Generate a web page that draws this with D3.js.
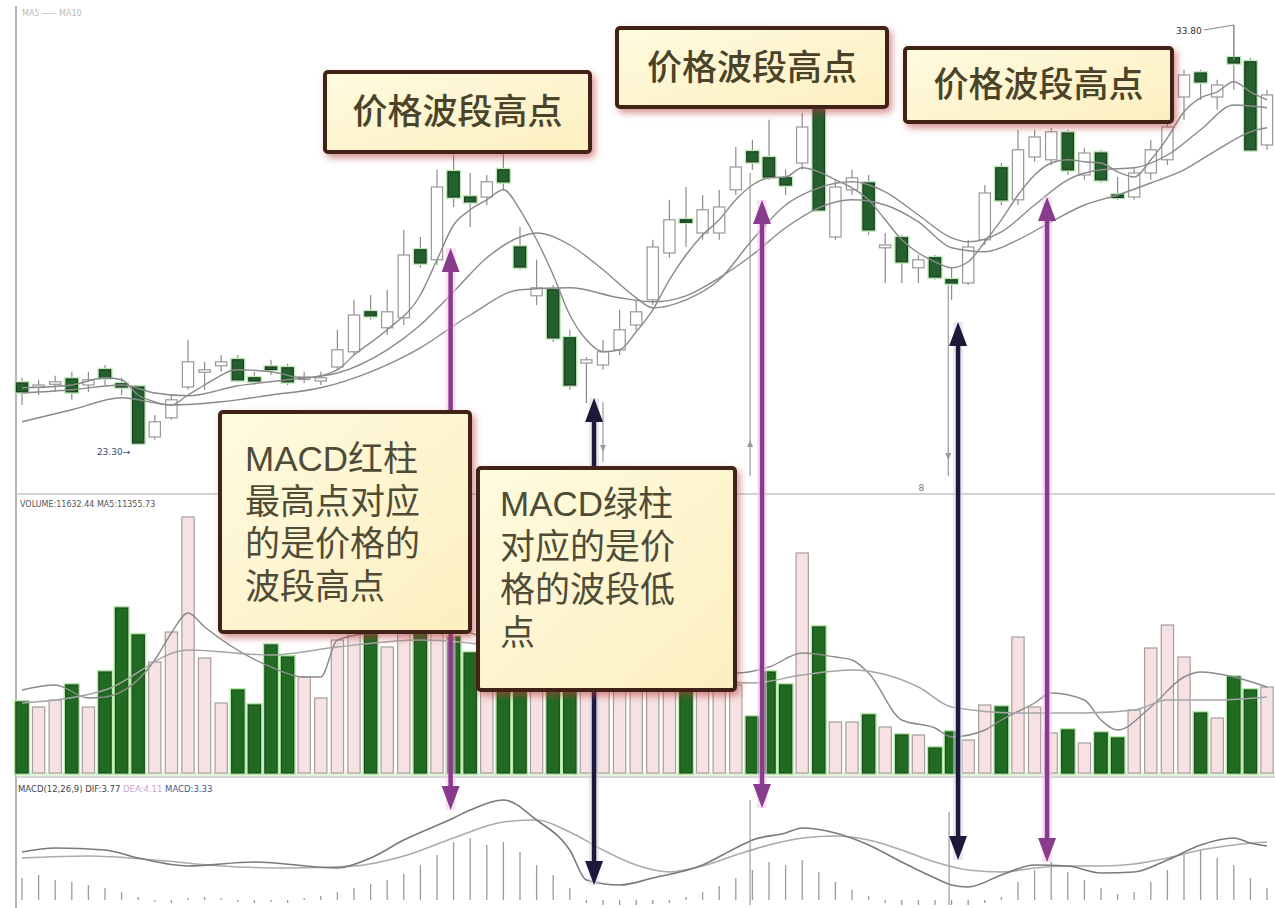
<!DOCTYPE html>
<html><head><meta charset="utf-8">
<script src="https://cdn.jsdelivr.net/npm/d3@7/dist/d3.min.js"></script>
<style>html,body{margin:0;padding:0;background:#fff;overflow:hidden}svg{display:block}</style>
</head><body>
<svg id="chart" width="1275" height="908"></svg>
<script>
// ---------- DATA ----------
const days = d3.range(76);
const openP  = [24.85,24.78,24.83,24.95,24.80,25.18,24.83,24.75,23.50,23.98,24.75,25.13,25.28,25.43,24.98,25.25,25.23,24.95,24.90,25.25,
                25.63,26.63,26.23,26.48,28.18,27.93,30.13,29.50,29.50,30.18,28.25,27.03,27.18,25.98,25.35,25.30,25.68,26.30,26.93,28.10,
                28.93,28.60,28.60,29.68,30.63,30.48,29.98,30.35,31.68,28.50,29.68,29.85,28.23,28.48,27.73,27.98,27.43,27.35,28.43,30.23,
                29.43,30.50,30.43,31.10,30.05,30.60,29.55,29.50,30.10,30.43,32.00,32.60,32.00,32.98,32.88,30.80];
const closeP = [24.63,24.80,24.88,24.63,24.93,24.98,24.75,23.35,23.88,24.43,25.38,25.18,25.38,24.93,24.90,25.20,24.88,25.00,24.98,25.68,
                26.55,26.53,26.63,28.05,27.85,29.75,29.50,29.38,29.88,29.88,27.75,27.23,25.98,24.80,25.43,25.63,26.18,26.63,28.25,28.93,
                28.88,29.18,29.25,30.25,30.38,30.00,29.80,31.25,29.18,29.75,29.98,28.68,28.30,27.88,27.93,27.50,27.35,28.25,29.60,29.43,
                30.68,31.00,31.13,30.18,30.60,29.93,29.50,30.10,30.68,31.25,32.55,32.38,32.30,32.85,30.68,32.05];
const highP  = [24.98,24.93,25.03,25.13,25.13,25.30,24.98,24.80,24.05,24.55,25.93,25.38,25.55,25.55,25.13,25.43,25.33,25.13,25.13,26.18,
                26.93,27.05,27.18,28.68,28.50,30.18,30.55,30.10,30.05,30.60,28.75,27.93,27.30,26.18,25.50,25.93,26.68,26.93,28.43,29.43,
                29.75,29.55,29.68,30.75,30.93,31.43,30.18,31.60,31.80,29.93,30.18,30.05,28.60,28.55,28.05,28.05,27.75,28.43,29.80,30.35,
                31.18,31.18,31.23,31.18,30.73,30.68,30.00,30.23,30.93,31.55,32.68,32.68,32.43,33.80,32.98,32.18];
const lowP   = [24.30,24.55,24.63,24.43,24.63,24.80,24.55,23.30,23.43,23.93,24.68,24.68,25.13,24.88,24.80,25.05,24.80,24.85,24.80,25.18,
                25.55,26.43,26.05,26.30,27.73,27.80,29.25,28.75,29.30,29.68,27.68,26.80,25.88,24.68,24.35,25.18,25.55,26.18,26.80,27.98,
                28.25,28.43,28.43,29.55,30.18,29.93,29.55,30.18,29.13,28.43,29.55,28.55,27.35,27.35,27.35,27.43,26.93,27.30,28.30,29.30,
                29.30,30.38,30.30,30.05,29.93,29.85,29.43,29.43,29.93,30.30,31.43,31.93,31.68,32.18,30.63,30.68];
const volume = [71,66,73,88,66,101,165,138,111,141,256,115,70,83,68,128,116,96,75,133,
                150,140,126,160,150,170,136,120,110,100,115,90,105,110,95,90,100,95,105,110,
                90,95,100,88,56,101,88,220,146,51,51,58,46,38,38,25,41,33,68,66,
                136,66,40,43,30,40,35,63,125,148,116,60,55,96,83,86];

// price moving averages (read at sampled days)
const ma5Days = [0,3,5,6,7,8,9,10,11,13,15,17,19,20,22,24,25,26,27,28,29,30,31,32,33,34,35,36,37,38,39,40,41,42,43,44,45,46,47,48,49,50,51,52,53,54,55,56,57,58,59,60,61,62,63,64,65,66,67,68,69,70,71,72,73,74,75];
const ma5 = [24.73,24.80,24.98,24.93,24.55,24.38,24.30,24.55,24.80,25.18,25.13,24.98,25.18,25.55,26.18,27.05,27.93,28.80,29.18,29.43,29.68,29.18,
             28.43,27.55,26.55,25.93,25.63,25.68,26.13,26.68,27.43,28.05,28.55,28.93,29.43,29.80,29.98,30.00,30.23,30.13,29.93,29.73,29.43,28.93,
             28.43,28.10,27.88,27.73,27.88,28.38,28.93,29.55,30.05,30.35,30.43,30.38,30.35,30.13,30.00,30.43,30.98,31.63,31.98,32.13,32.38,32.13,31.93];
const ma10Days = [0,3,6,8,10,13,16,19,22,24,26,28,30,31,33,35,37,38,40,42,44,46,48,50,52,54,56,57,59,61,63,65,67,69,71,73,75];
const ma10 = [24.60,24.68,24.80,24.60,24.53,24.78,24.93,25.10,25.68,26.30,27.13,27.98,28.50,28.60,28.30,27.68,26.98,26.73,26.93,27.43,
              28.43,29.30,29.73,29.88,29.63,29.05,28.48,28.38,28.63,29.30,29.93,30.18,30.23,30.55,31.18,31.80,31.73];
const ma20Days = [0,3,6,9,12,15,18,21,24,27,30,33,36,38,40,42,44,46,48,50,52,54,56,58,60,62,64,66,68,70,72,74,75];
const ma20 = [23.88,24.18,24.48,24.30,24.38,24.55,24.73,25.13,25.73,26.55,27.18,27.23,26.98,26.88,27.03,27.48,28.05,28.73,29.23,29.43,
              29.30,28.88,28.23,28.13,28.43,28.88,29.30,29.55,29.85,30.18,30.68,31.13,31.23];

// volume moving averages
const vma5Days = [0,2,4,5,8,9,10,11,15,17,18,19,22,24,28,32,36,40,43,45,47,49,50,51,53,55,56,58,59,61,62,64,65,66,68,70,71,73,75];
const vma5 = [83,88,75,76,113,140,160,146,106,96,96,133,143,150,135,110,100,100,100,106,120,116,113,100,53,45,36,43,53,70,80,73,53,43,66,96,101,96,86];
const vma10Days = [0,5,10,15,19,24,30,36,40,44,47,50,54,56,60,64,67,69,72,75];
const vma10 = [70,83,123,118,126,133,123,103,93,90,98,103,86,66,60,60,63,73,73,76];

// MACD
const difDays = [0,2,5,7,10,14,19,21,23,26,27,29,31,33,34,36,38,41,43,44,46,47,49,51,53,55,56,57,59,61,63,65,67,69,71,73,74,75];
const dif = [1.92,2.08,2.00,1.68,1.36,1.52,1.28,1.68,2.40,3.28,3.60,4.00,3.20,2.00,0.80,0.60,0.88,1.40,2.08,2.40,2.68,2.88,2.68,2.20,1.52,
             0.88,0.60,0.52,1.00,1.40,1.36,1.08,1.12,1.60,2.20,2.48,2.28,2.16];
const deaDays = [0,4,8,12,16,20,23,26,29,31,33,35,37,39,41,43,45,47,49,51,53,55,57,59,61,63,65,67,69,71,73,75];
const dea = [1.68,1.76,1.60,1.36,1.28,1.36,1.76,2.48,3.12,3.20,2.72,2.00,1.40,1.12,1.36,1.80,2.20,2.48,2.56,2.40,2.00,1.52,1.20,1.12,1.28,
             1.36,1.36,1.44,1.68,2.00,2.20,2.32];
const macdHist = [0.88,1.00,0.80,0.72,0.60,0.48,0.32,0.12,-0.08,-0.12,0.08,0.12,0.08,-0.08,-0.12,-0.08,-0.12,0.08,0.16,0.32,
                  0.48,0.64,0.80,1.04,1.40,1.80,2.32,2.48,2.20,2.32,1.92,1.40,1.00,0.48,-0.12,-0.20,-0.24,-0.20,-0.16,-0.12,
                  0.12,0.32,0.56,0.88,1.20,1.52,1.40,1.60,1.12,0.72,0.40,0.16,-0.12,-0.20,-0.24,-0.28,-0.32,-0.24,-0.12,0.12,
                  0.72,1.20,1.52,1.12,0.80,0.48,0.24,0.32,0.72,1.20,1.80,2.00,1.68,1.40,0.88,0.48];

// texts
const titleText = "价格波段高点";
const redBoxLines = ["MACD红柱", "最高点对应", "的是价格的", "波段高点"];
const greenBoxLines = ["MACD绿柱", "对应的是价", "格的波段低", "点"];
const volumeLabel = "VOLUME:11632.44  MA5:11355.73";
const macdLabel = ["MACD(12,26,9)  DIF:3.77", "DEA:4.11", "MACD:3.33"];

// ---------- SCALES ----------
const svg = d3.select('#chart');
const W = 1275, H = 908;
const x = d3.scalePoint().domain(days).range([22, 1267]);
const xi = d3.scaleLinear().domain([0, 75]).range([22, 1267]); // fractional day position for annotations
const step = x.step();
const yP = d3.scaleLinear().domain([22.1, 34.175]).range([493, 10]);
const yV = d3.scaleLinear().domain([0, 280]).range([773, 493]);
const yM = d3.scaleLinear().domain([-0.2, 4.2]).range([905, 795]);

const defs = svg.append('defs');
const f = defs.append('filter').attr('id', 'sh').attr('x', '-10%').attr('y', '-10%').attr('width', '125%').attr('height', '130%');
f.append('feDropShadow').attr('dx', 3).attr('dy', 4).attr('stdDeviation', 3.5).attr('flood-color', '#b83a3a').attr('flood-opacity', 0.55);
const g1 = defs.append('linearGradient').attr('id', 'boxfill').attr('x1', 0).attr('y1', 0).attr('x2', 1).attr('y2', 1);
g1.append('stop').attr('offset', '0%').attr('stop-color', '#fffbe0');
g1.append('stop').attr('offset', '100%').attr('stop-color', '#fcefc0');
const clip = defs.append('clipPath').attr('id', 'macdclip');
clip.append('rect').attr('x', 16).attr('y', 795).attr('width', W - 16).attr('height', 110);

svg.append('rect').attr('width', W).attr('height', H).attr('fill', '#fff');

// ---------- FRAME ----------
svg.append('line').attr('x1', 16).attr('x2', 16).attr('y1', 6).attr('y2', H).attr('stroke', '#b5b5b5').attr('stroke-width', 2);
svg.append('line').attr('x1', 16).attr('x2', W).attr('y1', 494).attr('y2', 494).attr('stroke', '#c4c4c4').attr('stroke-width', 1.5);
svg.append('line').attr('x1', 16).attr('x2', W).attr('y1', 777).attr('y2', 777).attr('stroke', '#c8c8c8').attr('stroke-width', 1.5);
svg.append('text').attr('x', 22).attr('y', 16).attr('font-size', 8).attr('fill', '#bbb').attr('font-family', 'DejaVu Sans').text('MA5 ─── MA10');

// ---------- CANDLES ----------
const candles = days.map(i => ({i, o: openP[i], c: closeP[i], h: highP[i], l: lowP[i]}));
const bw = step * 0.68;
const cg = svg.append('g');
cg.selectAll('line.wick').data(candles).join('line')
  .attr('x1', d => x(d.i)).attr('x2', d => x(d.i))
  .attr('y1', d => yP(d.h)).attr('y2', d => yP(d.l))
  .attr('stroke', '#8c8c8c').attr('stroke-width', 1.2);
cg.selectAll('rect.halo').data(candles.filter(d => d.c < d.o)).join('rect')
  .attr('x', d => x(d.i) - bw / 2).attr('width', bw)
  .attr('y', d => yP(d.o)).attr('height', d => Math.max(2, yP(d.c) - yP(d.o)))
  .attr('fill', 'none').attr('stroke', '#bfe9b8').attr('stroke-width', 4);
cg.selectAll('rect.body').data(candles).join('rect')
  .attr('x', d => x(d.i) - bw / 2).attr('width', bw)
  .attr('y', d => yP(Math.max(d.o, d.c)))
  .attr('height', d => Math.max(2.5, Math.abs(yP(d.o) - yP(d.c))))
  .attr('fill', d => d.c < d.o ? '#245f2e' : '#ffffff')
  .attr('stroke', d => d.c < d.o ? '#1b3d22' : '#9b9696')
  .attr('stroke-width', 1.2);

// MA lines
const maLine = d3.line().x(d => x(d[0])).y(d => yP(d[1])).curve(d3.curveMonotoneX);
[[ma5Days, ma5], [ma10Days, ma10], [ma20Days, ma20]].forEach(([ds, vs]) => {
  svg.append('path').attr('d', maLine(ds.map((d, k) => [d, vs[k]])))
    .attr('fill', 'none').attr('stroke', '#8a8a8a').attr('stroke-width', 1.4);
});

// low / high labels
const iLow = d3.minIndex(lowP), iHigh = d3.maxIndex(highP);
svg.append('text').attr('x', x(iLow) - 8).attr('y', yP(lowP[iLow]) + 10).attr('text-anchor', 'end')
  .attr('font-size', 9).attr('font-family', 'DejaVu Sans').attr('fill', '#3a4a7a').text(d3.format('.2f')(lowP[iLow]) + '→');
svg.append('path').attr('d', `M${x(iHigh)},${yP(highP[iHigh])+35} V${yP(highP[iHigh])} L${x(iHigh)-30},${yP(highP[iHigh])+5}`)
  .attr('fill', 'none').attr('stroke', '#888').attr('stroke-width', 1);
svg.append('text').attr('x', x(iHigh) - 32).attr('y', yP(highP[iHigh]) + 9).attr('text-anchor', 'end')
  .attr('font-size', 9).attr('font-family', 'DejaVu Sans').attr('fill', '#333').text(d3.format('.2f')(highP[iHigh]));

// ---------- VOLUME ----------
svg.append('text').attr('x', 20).attr('y', 507).attr('font-size', 8).attr('font-family', 'DejaVu Sans').attr('fill', '#555').text(volumeLabel);
const vw = step * 0.74;
const vol = days.map(i => ({i, v: volume[i], down: closeP[i] < openP[i]}));
svg.append('rect').attr('x', 16).attr('y', 772).attr('width', W - 16).attr('height', 4).attr('fill', '#e3f3dc');
const vg = svg.append('g');
vg.selectAll('rect.vh').data(vol.filter(d => d.down)).join('rect')
  .attr('x', d => x(d.i) - vw / 2).attr('width', vw)
  .attr('y', d => yV(d.v)).attr('height', d => yV(0) - yV(d.v))
  .attr('fill', 'none').attr('stroke', '#b6eaa9').attr('stroke-width', 4);
vg.selectAll('rect.vb').data(vol).join('rect')
  .attr('x', d => x(d.i) - vw / 2).attr('width', vw)
  .attr('y', d => yV(d.v)).attr('height', d => yV(0) - yV(d.v))
  .attr('fill', d => d.down ? '#206a22' : '#f6e2e2')
  .attr('stroke', d => d.down ? '#1c4f1f' : '#a89e9e').attr('stroke-width', 1.2);
const vLine = d3.line().x(d => x(d[0])).y(d => yV(d[1])).curve(d3.curveMonotoneX);
[[vma5Days, vma5, '#8a8a8a'], [vma10Days, vma10, '#a5a5a5']].forEach(([ds, vs, col]) => {
  svg.append('path').attr('d', vLine(ds.map((d, k) => [d, vs[k]])))
    .attr('fill', 'none').attr('stroke', col).attr('stroke-width', 1.4);
});

// ---------- MACD ----------
const lab = svg.append('text').attr('x', 18).attr('y', 792).attr('font-size', 8.5).attr('font-family', 'DejaVu Sans');
lab.append('tspan').attr('fill', '#444').text(macdLabel[0] + '  ');
lab.append('tspan').attr('fill', '#c8a6cf').text(macdLabel[1] + '  ');
lab.append('tspan').attr('fill', '#3a5a8a').text(macdLabel[2]);
const mg = svg.append('g').attr('clip-path', 'url(#macdclip)');
mg.selectAll('line.h').data(days).join('line')
  .attr('x1', i => x(i)).attr('x2', i => x(i))
  .attr('y1', yM(0)).attr('y2', i => yM(macdHist[i]))
  .attr('stroke', i => macdHist[i] >= 0 ? '#9a9a9a' : '#7aa87a').attr('stroke-width', 1.3);
const mLine = d3.line().x(d => x(d[0])).y(d => yM(d[1])).curve(d3.curveMonotoneX);
mg.append('path').attr('d', mLine(deaDays.map((d, k) => [d, dea[k]]))).attr('fill', 'none').attr('stroke', '#ababab').attr('stroke-width', 1.6);
mg.append('path').attr('d', mLine(difDays.map((d, k) => [d, dif[k]]))).attr('fill', 'none').attr('stroke', '#7a7a7a').attr('stroke-width', 1.6);

// ---------- GUIDE LINES ----------
const guides = [
  {at: 43.86, y1: yP(30.1), y2: 476}, {at: 43.86, y1: 800, y2: 905},
  {at: 35.0, y1: 402, y2: 462},
  {at: 55.8, y1: yP(27.3), y2: 476}, {at: 55.85, y1: 812, y2: 905}
];
svg.selectAll('line.guide').data(guides).join('line')
  .attr('x1', d => xi(d.at)).attr('x2', d => xi(d.at)).attr('y1', d => d.y1).attr('y2', d => d.y2)
  .attr('stroke', '#9a9a9a').attr('stroke-width', 1.2);
[[43.86, 440, -1], [35.0, 452, 1], [55.8, 460, 1]].forEach(([a, yy, dir]) => {
  const cx = xi(a);
  svg.append('path').attr('d', `M${cx},${yy} l-3,${-dir*7} l6,0 z`).attr('fill', '#999');
});
svg.append('text').attr('x', xi(54.0)).attr('y', 491).attr('font-size', 9).attr('fill', '#777').attr('font-family', 'DejaVu Sans').text('8');

// ---------- ARROWS ----------
function arrow(cx, yTail, yTip, color, halo) {
  const dir = yTip < yTail ? -1 : 1;
  const g = svg.append('g');
  if (halo) g.append('line').attr('x1', cx).attr('x2', cx).attr('y1', yTail).attr('y2', yTip)
      .attr('stroke', halo).attr('stroke-width', 10).attr('opacity', 0.55);
  g.append('line').attr('x1', cx).attr('x2', cx).attr('y1', yTail).attr('y2', yTip - dir * 16)
    .attr('stroke', color).attr('stroke-width', 4.5);
  g.append('path').attr('d', `M${cx},${yTip} L${cx-9},${yTip - dir*24} L${cx+9},${yTip - dir*24} Z`).attr('fill', color);
}
const purple = '#8a3c8c', navy = '#1b1a3a';
arrow(xi(25.82), 412, 248, purple, '#f4c8ee');
arrow(xi(25.82), 632, 810, purple, '#f4c8ee');
arrow(xi(34.46), 468, 398, navy, '#d6d6ee');
arrow(xi(34.46), 690, 885, navy, '#d6d6ee');
arrow(xi(44.58), 500, 200, purple, '#f4c8ee');
arrow(xi(44.58), 500, 808, purple, '#f4c8ee');
arrow(xi(56.39), 560, 322, navy, '#d6d6ee');
arrow(xi(56.39), 560, 860, navy, '#d6d6ee');
arrow(xi(61.75), 500, 197, purple, '#f4c8ee');
arrow(xi(61.75), 500, 862, purple, '#f4c8ee');

// ---------- BOXES ----------
function box(bx, by, bw2, bh) {
  svg.append('rect').attr('x', bx).attr('y', by).attr('width', bw2).attr('height', bh).attr('rx', 3)
    .attr('fill', 'url(#boxfill)').attr('stroke', '#3f2416').attr('stroke-width', 4).attr('filter', 'url(#sh)');
}
const font = "'Noto Sans CJK SC', 'Noto Sans', sans-serif";
const boxFont = "'Liberation Sans', 'Noto Sans CJK SC', sans-serif";
[[325, 72, 265, 80], [617, 28, 270, 79], [905, 48, 267, 74]].forEach(([bx, by, bw2, bh]) => {
  box(bx, by, bw2, bh);
  svg.append('text').attr('x', bx + bw2 / 2).attr('y', by + bh / 2 + 12).attr('text-anchor', 'middle')
    .attr('font-size', 35).attr('font-weight', 500).attr('font-family', font).attr('fill', '#4a4328').text(titleText);
});
function lines(ls, tx, ty, lh) {
  ls.forEach((s, k) => svg.append('text').attr('x', tx).attr('y', ty + k * lh)
    .attr('font-size', 35).attr('font-family', boxFont).attr('fill', '#4f4b36').text(s));
}
box(220, 412, 250, 220);
lines(redBoxLines, 245, 471, 42.5);
box(478, 468, 257, 222);
lines(greenBoxLines, 500, 516, 43);
</script></body></html>
